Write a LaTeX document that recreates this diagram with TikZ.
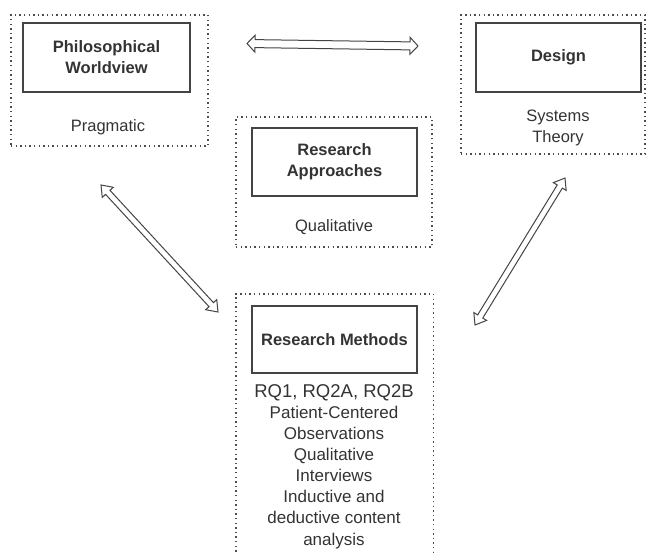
\documentclass[tikz,border=0pt]{standalone}
\usepackage{fontspec}
\setmainfont{Liberation Sans}
\usetikzlibrary{calc}

\definecolor{ink}{HTML}{333333}
\definecolor{edge}{HTML}{444444}
\definecolor{dots}{HTML}{4D4D4D}

\tikzset{
  frame/.style={draw=dots, line width=1.4pt, dash pattern=on 1.4pt off 3.2pt},
  headbox/.style={draw=edge, line width=1.2pt, align=center, inner sep=0pt,
    font=\fontsize{16.5}{21}\selectfont\bfseries, text=ink},
  caption/.style={align=center, inner sep=0pt, text=ink,
    font=\fontsize{16.5}{21.1}\selectfont},
  arrowline/.style={draw=edge, line width=1pt, line join=miter, fill=white},
}

% hollow two-headed arrow between two tips:
% #1,#2 tips, #3 half shaft width, #4 half head width, #5 head length
\newcommand\hollowarrow[5]{%
  \draw[arrowline] (#1)
    -- ($(#1)!#5!(#2)!#4!90:(#2)$) -- ($(#1)!#5!(#2)!#3!90:(#2)$)
    -- ($(#2)!#5!(#1)!#3!-90:(#1)$) -- ($(#2)!#5!(#1)!#4!-90:(#1)$)
    -- (#2)
    -- ($(#2)!#5!(#1)!#4!90:(#1)$) -- ($(#2)!#5!(#1)!#3!90:(#1)$)
    -- ($(#1)!#5!(#2)!#3!-90:(#2)$) -- ($(#1)!#5!(#2)!#4!-90:(#2)$)
    -- cycle;}

\begin{document}
\begin{tikzpicture}[x=1pt,y=-1pt]
  \useasboundingbox (0,0) rectangle (647,554);

  % dotted frames
  \node[frame, minimum width=197pt, minimum height=131pt] (f1) at (109.5,80.5) {};
  \node[frame, minimum width=184pt, minimum height=139pt] (f2) at (553,84.5) {};
  \node[frame, minimum width=196pt, minimum height=130pt] (f3) at (334,182) {};
  \node[minimum width=197pt, minimum height=262pt, inner sep=0pt] (f4) at (334.5,425) {};
  \draw[frame] (f4.south west) -- (f4.north west) -- (f4.north east) -- (f4.south east);

  % headings
  \node[headbox, minimum width=167pt, minimum height=69pt] (pw) at (106.5,57.5)
    {Philosophical\\Worldview};
  \node[headbox, minimum width=165pt, minimum height=69pt] (de) at (558.5,57.5)
    {Design};
  \node[headbox, minimum width=165pt, minimum height=68pt] (ra) at (334.5,162)
    {Research\\Approaches};
  \node[headbox, minimum width=165pt, minimum height=67pt] (rm) at (334.5,339.5)
    {Research Methods};

  % contents
  \node[caption] (pwc) at (108,127) {Pragmatic};
  \node[caption] (dec) at (558,127.5) {Systems\\Theory};
  \node[caption] (rac) at (334,227) {Qualitative};
  \node[caption, font=\fontsize{17}{21.1}\selectfont] (rmc) at (334,466.5)
    {{\fontsize{18.5}{21.1}\selectfont RQ1, RQ2A, RQ2B}\\Patient-Centered\\Observations\\Qualitative\\Interviews\\Inductive and\\deductive content\\analysis};

  % arrow tips
  \coordinate (h1) at (247,43.5);
  \coordinate (h2) at (418,46);
  \coordinate (l1) at (101,185);
  \coordinate (l2) at (218,312);
  \coordinate (r1) at (475,325);
  \coordinate (r2) at (565,178);

  \hollowarrow{h1}{h2}{4pt}{8.5pt}{8pt}
  \hollowarrow{l1}{l2}{3pt}{7.5pt}{10pt}
  \hollowarrow{r1}{r2}{3pt}{7.5pt}{10pt}
\end{tikzpicture}
\end{document}
